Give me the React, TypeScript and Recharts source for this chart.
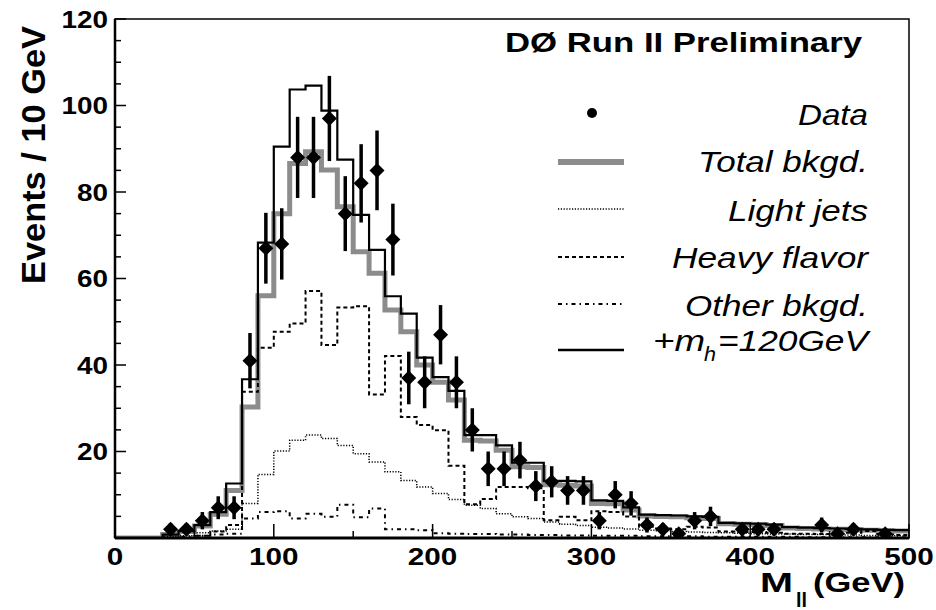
import React from 'react';
import { ComposedChart, Line, Scatter, ErrorBar, XAxis, YAxis } from 'recharts';

// Bin edges in GeV (10 GeV bins)
const binEdges = [
  0, 10, 20, 30, 40, 50, 60, 70, 80, 90, 100, 110, 120, 130, 140, 150, 160, 170, 180, 190,
  200, 210, 220, 230, 240, 250, 260, 270, 280, 290, 300, 310, 320, 330, 340, 350, 360, 370,
  380, 390, 400, 410, 420, 430, 440, 450, 460, 470, 480, 490, 500,
];

// Bin contents, one per 10 GeV bin starting at 0
const totalBkgd = [
  0, 0, 0, 0.8, 1.5, 2.8, 5.5, 11, 30.3, 56, 75, 86.6, 89.3, 85.1, 76.6, 66.2, 61.2, 52.7, 47.7, 40,
  36, 31.9, 22.6, 22.4, 20.3, 16.5, 16.3, 12.3, 12.2, 12, 8, 7.9, 6.5, 5.1, 5, 4.9, 4.7, 4.5, 3.3, 3.2,
  3.1, 2.9, 2.3, 2.2, 2.1, 2, 1.9, 1.8, 1.7, 1.6,
];
const signalPlusBkgd = [
  0, 0, 0, 0.8, 1.6, 3, 6, 12.6, 36.7, 68.3, 90.5, 103.7, 104.6, 98.8, 87.5, 74.7, 66.6, 55.9, 51.9, 41.7,
  37.2, 34, 23.8, 23.8, 21.4, 17.4, 17.4, 13.2, 13.2, 13.1, 8.7, 8.6, 7.1, 5.4, 5.3, 5.2, 5, 4.9, 3.5, 3.4,
  3.3, 3.1, 2.5, 2.4, 2.3, 2.2, 2.1, 2, 1.9, 1.8,
];
const lightJets = [
  0, 0, 0, 0.3, 0.5, 1.2, 1.6, 2, 8, 14.7, 20.1, 22.6, 23.8, 23, 21.4, 19.5, 17.6, 15.3, 13.3, 11.8,
  10.3, 8.9, 7.6, 6.8, 5.6, 4.9, 4.5, 3.7, 3.2, 2.9, 2.5, 2.3, 2.1, 1.8, 1.7, 1.5, 1.4, 1.3, 1.2, 1.1,
  1, 0.9, 0.9, 0.8, 0.8, 0.7, 0.7, 0.6, 0.6, 0.5,
];
const heavyFlavor = [
  0, 0, 0, 0, 0, 0.5, 1.5, 3, 33.8, 44, 47.7, 49.6, 57.1, 44.6, 53.3, 53.6, 33.2, 42.1, 28, 26.1,
  24.9, 16.7, 7.8, 9, 11.8, 11.8, 11.5, 4.1, 4.9, 4.1, 6.2, 6, 5, 2.6, 2.2, 2, 2.6, 2.4, 1.5, 1.4,
  1.4, 1.2, 1, 1, 0.9, 0.9, 1.2, 1.6, 0.8, 0.7,
];
const otherBkgd = [
  0, 0, 0, 0, 0.3, 0.5, 0.8, 1, 4.5, 6, 6.2, 4.5, 5.6, 4.9, 7.7, 4.8, 6.8, 2, 2, 1.8,
  1.1, 1, 0.9, 0.9, 0.8, 0.8, 0.7, 0.7, 0.6, 0.6, 0.5, 0.5, 0.5, 0.4, 0.4, 0.4, 0.4, 0.3, 0.3, 0.3,
  0.3, 0.3, 0.3, 0.2, 0.2, 0.2, 0.2, 0.2, 0.2, 0.2,
];

// Observed events at bin centres (empty bins are not drawn)
const dataMass = [
  35, 45, 55, 65, 75, 85, 95, 105, 115, 125, 135, 145, 155, 165, 175, 185, 195, 205, 215, 225,
  235, 245, 255, 265, 275, 285, 295, 305, 315, 325, 335, 345, 355, 365, 375, 395, 405, 415,
  445, 455, 465, 485,
];
const dataEvents = [
  2, 2, 4, 7, 7, 41, 67, 68, 88, 88, 97, 75, 82, 85, 69, 37, 36, 47, 36, 25,
  16, 16, 18, 12, 13, 11, 11, 4, 10, 8, 3, 2, 1, 4, 5, 2, 2, 2,
  3, 1, 2, 1,
];

const xTicks = [0, 50, 100, 150, 200, 250, 300, 350, 400, 450, 500];
const xLabels = [0, 100, 200, 300, 400, 500];
const yTicks = [0, 5, 10, 15, 20, 25, 30, 35, 40, 45, 50, 55, 60, 65, 70, 75, 80, 85, 90, 95, 100, 105, 110, 115, 120];
const yLabels = [20, 40, 60, 80, 100, 120];

const W = 936;
const H = 610;
const PLOT_LEFT = 115;
const PLOT_TOP = 19;
const PLOT_RIGHT = 909;
const PLOT_BOTTOM = 538;
const FONT = '"Liberation Sans", Arial, Helvetica, sans-serif';

// each edge carries the content of the bin on its right; the last edge repeats the last bin
const histRows = binEdges.map((edge, i) => {
  const k = Math.min(i, totalBkgd.length - 1);
  return {
    m: edge,
    total: totalBkgd[k],
    signal: signalPlusBkgd[k],
    light: lightJets[k],
    heavy: heavyFlavor[k],
    other: otherBkgd[k],
  };
});

// poisson errors on the observed counts
const dataRows = dataMass.map((m, i) => ({
  m,
  events: dataEvents[i],
  err: Math.sqrt(dataEvents[i]),
}));

function MassTick(props: any) {
  const { x, payload } = props;
  const v = payload.value;
  const major = xLabels.includes(v);
  return (
    <g>
      <line x1={x} x2={x} y1={PLOT_BOTTOM} y2={PLOT_BOTTOM - (major ? 14 : 7)} stroke="#000" strokeWidth={1.5} />
      {major && (
        <text
          x={x}
          y={565}
          textAnchor="middle"
          fontFamily={FONT}
          fontWeight="bold"
          fontSize={24}
          fill="#000"
          textLength={String(v).length * 16.5}
          lengthAdjust="spacingAndGlyphs"
        >
          {v}
        </text>
      )}
    </g>
  );
}

function EventsTick(props: any) {
  const { y, payload } = props;
  const v = payload.value;
  const major = v % 20 === 0;
  return (
    <g>
      <line x1={PLOT_LEFT} x2={PLOT_LEFT + (major ? 11 : 6)} y1={y} y2={y} stroke="#000" strokeWidth={1.5} />
      {yLabels.includes(v) && (
        <text
          x={108}
          y={y + 8.5}
          textAnchor="end"
          fontFamily={FONT}
          fontWeight="bold"
          fontSize={24}
          fill="#000"
          textLength={String(v).length * 15.5}
          lengthAdjust="spacingAndGlyphs"
        >
          {v}
        </text>
      )}
    </g>
  );
}

function Diamond(props: any) {
  const { cx, cy } = props;
  if (cx == null || cy == null) return null;
  return <polygon points={`${cx - 7.5},${cy} ${cx},${cy - 7.5} ${cx + 7.5},${cy} ${cx},${cy + 7.5}`} fill="#000" />;
}

const legendText = {
  fontFamily: FONT,
  fontStyle: 'italic' as const,
  fontSize: 30,
  fill: '#000',
};

function Overlay() {
  const lx1 = 558;
  const lx2 = 624;
  return (
    <svg width={W} height={H} style={{ position: 'absolute', left: 0, top: 0, pointerEvents: 'none' }}>
      <rect x={PLOT_LEFT} y={PLOT_TOP} width={PLOT_RIGHT - PLOT_LEFT} height={PLOT_BOTTOM - PLOT_TOP} fill="none" stroke="#000" strokeWidth={1.5} />

      {/* axis titles */}
      <text
        transform="translate(45,155) rotate(-90)"
        textAnchor="middle"
        fontFamily={FONT}
        fontWeight="bold"
        fontSize={33}
        textLength={258}
        lengthAdjust="spacingAndGlyphs"
      >
        Events / 10 GeV
      </text>
      <text x={760} y={592} fontFamily={FONT} fontWeight="bold" fontSize={28} textLength={33} lengthAdjust="spacingAndGlyphs">M</text>
      <text x={796} y={607} fontFamily={FONT} fontWeight="bold" fontSize={20} textLength={11} lengthAdjust="spacingAndGlyphs">ll</text>
      <text x={813} y={592} fontFamily={FONT} fontWeight="bold" fontSize={28} textLength={92} lengthAdjust="spacingAndGlyphs">(GeV)</text>

      {/* legend */}
      <text x={505} y={52} fontFamily={FONT} fontWeight="bold" fontSize={28} textLength={357} lengthAdjust="spacingAndGlyphs">
        DØ Run II Preliminary
      </text>

      <circle cx={592} cy={113} r={5} fill="#000" />
      <text x={868} y={125} textAnchor="end" {...legendText} textLength={70} lengthAdjust="spacingAndGlyphs">Data</text>

      <line x1={lx1} x2={lx2} y1={162} y2={162} stroke="#8c8c8c" strokeWidth={6} />
      <text x={868} y={172} textAnchor="end" {...legendText} textLength={170} lengthAdjust="spacingAndGlyphs">Total bkgd.</text>

      <line x1={lx1} x2={lx2} y1={209} y2={209} stroke="#000" strokeWidth={1.5} strokeDasharray="1.2 1.6" />
      <text x={868} y={221} textAnchor="end" {...legendText} textLength={140} lengthAdjust="spacingAndGlyphs">Light jets</text>

      <line x1={lx1} x2={lx2} y1={257} y2={257} stroke="#000" strokeWidth={2} strokeDasharray="4 3" />
      <text x={868} y={268} textAnchor="end" {...legendText} textLength={196} lengthAdjust="spacingAndGlyphs">Heavy flavor</text>

      <line x1={lx1} x2={lx2} y1={304} y2={304} stroke="#000" strokeWidth={2} strokeDasharray="4 4 1.5 4" />
      <text x={868} y={316} textAnchor="end" {...legendText} textLength={183} lengthAdjust="spacingAndGlyphs">Other bkgd.</text>

      <line x1={lx1} x2={lx2} y1={350} y2={350} stroke="#000" strokeWidth={2.5} />
      <text x={653} y={351} {...legendText} textLength={52} lengthAdjust="spacingAndGlyphs">+m</text>
      <text x={704} y={361} {...legendText} fontSize={21} textLength={12} lengthAdjust="spacingAndGlyphs">h</text>
      <text x={718} y={351} {...legendText} textLength={150} lengthAdjust="spacingAndGlyphs">=120GeV</text>
    </svg>
  );
}

export default function App() {
  return (
    <div style={{ position: 'absolute', left: 0, top: 0, width: W, height: H, background: '#fff' }}>
      <ComposedChart
        width={W}
        height={H}
        data={histRows}
        margin={{ top: PLOT_TOP, right: W - PLOT_RIGHT, bottom: 42, left: PLOT_LEFT - 60 }}
      >
        <XAxis
          dataKey="m"
          type="number"
          domain={[0, 500]}
          ticks={xTicks}
          interval={0}
          height={30}
          tick={<MassTick />}
          tickLine={false}
          axisLine={{ stroke: '#000', strokeWidth: 3 }}
          allowDataOverflow
        />
        <YAxis
          type="number"
          domain={[0, 120]}
          ticks={yTicks}
          interval={0}
          width={60}
          tick={<EventsTick />}
          tickLine={false}
          axisLine={{ stroke: '#000', strokeWidth: 2.5 }}
          allowDataOverflow
        />
        <Line dataKey="total" type="stepAfter" stroke="#8c8c8c" strokeWidth={5} dot={false} activeDot={false} isAnimationActive={false} />
        <Line dataKey="light" type="stepAfter" stroke="#000" strokeWidth={1.5} strokeDasharray="1.2 1.6" dot={false} activeDot={false} isAnimationActive={false} />
        <Line dataKey="heavy" type="stepAfter" stroke="#000" strokeWidth={2} strokeDasharray="4 3" dot={false} activeDot={false} isAnimationActive={false} />
        <Line dataKey="other" type="stepAfter" stroke="#000" strokeWidth={2} strokeDasharray="4 4 1.5 4" dot={false} activeDot={false} isAnimationActive={false} />
        <Line dataKey="signal" type="stepAfter" stroke="#000" strokeWidth={2.2} dot={false} activeDot={false} isAnimationActive={false} />
        <Scatter data={dataRows} dataKey="events" shape={<Diamond />} isAnimationActive={false}>
          <ErrorBar dataKey="err" direction="y" width={0} stroke="#000" strokeWidth={3.5} />
        </Scatter>
      </ComposedChart>
      <Overlay />
    </div>
  );
}
